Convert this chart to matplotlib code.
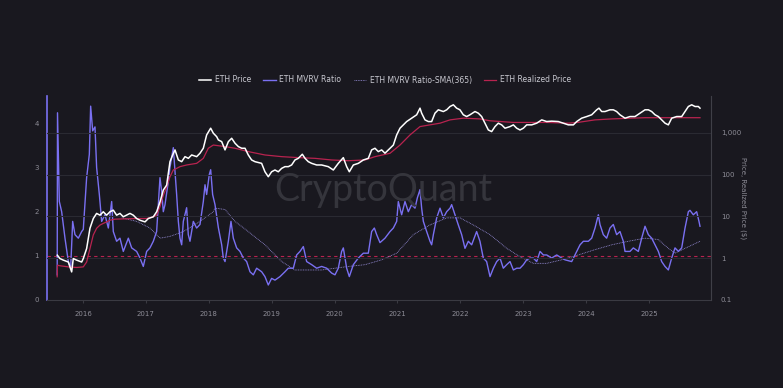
import matplotlib
matplotlib.use('Agg')
import matplotlib.pyplot as plt
from matplotlib.ticker import FixedLocator, FuncFormatter

# (decimal year, value)
mvrv = [(2015.590, 0.57), (2015.595, 4.24), (2015.624, 2.23), (2015.661, 2.00), (2015.714, 1.40),
        (2015.767, 0.87), (2015.804, 0.72), (2015.836, 1.78), (2015.873, 1.48), (2015.926, 1.40),
        (2015.979, 1.55), (2016.005, 1.60), (2016.058, 2.77), (2016.101, 3.30), (2016.122, 4.39),
        (2016.154, 3.83), (2016.191, 3.92), (2016.217, 3.00), (2016.260, 2.39), (2016.297, 1.78),
        (2016.350, 1.93), (2016.403, 1.63), (2016.456, 2.23), (2016.482, 1.55), (2016.535, 1.33),
        (2016.588, 1.40), (2016.641, 1.10), (2016.721, 1.40), (2016.774, 1.18), (2016.853, 1.10),
        (2016.906, 0.95), (2016.959, 0.76), (2017.012, 1.10), (2017.065, 1.18), (2017.118, 1.33),
        (2017.171, 1.55), (2017.198, 2.16), (2017.224, 2.77), (2017.251, 2.46), (2017.277, 2.00),
        (2017.304, 2.16), (2017.357, 2.69), (2017.383, 3.00), (2017.410, 3.23), (2017.436, 3.45),
        (2017.463, 2.92), (2017.489, 2.39), (2017.516, 1.78), (2017.542, 1.40), (2017.569, 1.25),
        (2017.595, 1.78), (2017.648, 2.09), (2017.674, 1.48), (2017.701, 1.33), (2017.754, 1.78),
        (2017.807, 1.63), (2017.860, 1.71), (2017.913, 2.23), (2017.940, 2.61), (2017.966, 2.39),
        (2018.008, 2.84), (2018.030, 2.95), (2018.061, 2.39), (2018.099, 2.16), (2018.125, 1.90),
        (2018.152, 1.64), (2018.205, 1.25), (2018.231, 0.95), (2018.258, 0.87), (2018.311, 1.33),
        (2018.353, 1.78), (2018.390, 1.40), (2018.443, 1.18), (2018.496, 1.10), (2018.549, 0.95),
        (2018.602, 0.87), (2018.655, 0.64), (2018.708, 0.57), (2018.761, 0.72), (2018.840, 0.64),
        (2018.893, 0.53), (2018.946, 0.34), (2018.999, 0.49), (2019.052, 0.45), (2019.132, 0.53),
        (2019.211, 0.64), (2019.264, 0.72), (2019.344, 0.72), (2019.397, 1.02), (2019.450, 1.10),
        (2019.503, 1.21), (2019.556, 0.87), (2019.636, 0.80), (2019.715, 0.72), (2019.794, 0.76),
        (2019.874, 0.72), (2019.953, 0.61), (2020.006, 0.57), (2020.059, 0.72), (2020.112, 1.10),
        (2020.139, 1.18), (2020.192, 0.72), (2020.234, 0.53), (2020.298, 0.80), (2020.377, 0.95),
        (2020.457, 1.06), (2020.536, 1.06), (2020.589, 1.55), (2020.632, 1.63), (2020.669, 1.48),
        (2020.722, 1.30), (2020.801, 1.40), (2020.881, 1.55), (2020.934, 1.63), (2020.987, 1.78),
        (2021.013, 2.23), (2021.040, 2.08), (2021.066, 1.93), (2021.119, 2.23), (2021.172, 2.00),
        (2021.225, 2.16), (2021.278, 2.08), (2021.315, 2.31), (2021.358, 2.50), (2021.384, 2.08),
        (2021.411, 1.78), (2021.464, 1.55), (2021.517, 1.33), (2021.543, 1.25), (2021.570, 1.48),
        (2021.623, 1.86), (2021.676, 2.08), (2021.729, 1.86), (2021.782, 2.00), (2021.835, 2.08),
        (2021.861, 2.16), (2021.914, 1.93), (2021.967, 1.70), (2022.020, 1.48), (2022.073, 1.17),
        (2022.126, 1.33), (2022.179, 1.25), (2022.258, 1.55), (2022.311, 1.33), (2022.364, 0.95),
        (2022.417, 0.87), (2022.471, 0.53), (2022.524, 0.72), (2022.577, 0.87), (2022.630, 0.95),
        (2022.682, 0.72), (2022.736, 0.80), (2022.789, 0.87), (2022.842, 0.68), (2022.895, 0.72),
        (2022.948, 0.72), (2023.001, 0.80), (2023.054, 0.91), (2023.107, 0.95), (2023.160, 0.95),
        (2023.213, 0.87), (2023.266, 1.10), (2023.319, 1.02), (2023.372, 1.02), (2023.451, 0.95),
        (2023.531, 1.02), (2023.610, 0.95), (2023.663, 0.91), (2023.769, 0.87), (2023.849, 1.10),
        (2023.902, 1.25), (2023.955, 1.33), (2024.034, 1.33), (2024.087, 1.40), (2024.140, 1.63),
        (2024.193, 1.93), (2024.219, 1.71), (2024.272, 1.48), (2024.325, 1.40), (2024.378, 1.63),
        (2024.431, 1.71), (2024.484, 1.48), (2024.537, 1.55), (2024.590, 1.33), (2024.617, 1.10),
        (2024.696, 1.10), (2024.749, 1.18), (2024.829, 1.10), (2024.882, 1.40), (2024.935, 1.67),
        (2024.988, 1.48), (2025.041, 1.40), (2025.094, 1.25), (2025.147, 1.10), (2025.200, 0.87),
        (2025.253, 0.76), (2025.306, 0.68), (2025.359, 0.95), (2025.412, 1.18), (2025.465, 1.10),
        (2025.518, 1.18), (2025.571, 1.63), (2025.624, 2.00), (2025.650, 2.03), (2025.703, 1.93),
        (2025.756, 2.00), (2025.793, 1.78), (2025.809, 1.67)]

mvrv_sma = [(2016.615, 1.86), (2016.854, 1.78), (2017.065, 1.63), (2017.224, 1.40), (2017.383, 1.44),
            (2017.595, 1.55), (2017.860, 1.78), (2018.072, 2.00), (2018.099, 2.08), (2018.258, 2.05),
            (2018.417, 1.78), (2018.628, 1.55), (2018.893, 1.25), (2019.159, 0.87), (2019.370, 0.68),
            (2019.582, 0.68), (2019.795, 0.68), (2020.006, 0.72), (2020.218, 0.76), (2020.483, 0.80),
            (2020.749, 0.91), (2020.987, 1.06), (2021.251, 1.48), (2021.517, 1.70), (2021.782, 1.86),
            (2021.994, 1.86), (2022.205, 1.70), (2022.471, 1.48), (2022.736, 1.17), (2022.948, 0.98),
            (2023.159, 0.83), (2023.371, 0.83), (2023.610, 0.91), (2023.874, 1.02), (2024.140, 1.14),
            (2024.405, 1.25), (2024.669, 1.33), (2024.935, 1.40), (2025.146, 1.37), (2025.305, 1.17),
            (2025.412, 1.06), (2025.571, 1.17), (2025.809, 1.33)]

eth_price = [(2015.592, 1.18), (2015.634, 0.98), (2015.687, 0.90), (2015.767, 0.81), (2015.820, 0.47),
             (2015.846, 0.98), (2015.899, 0.90), (2015.979, 0.81), (2016.005, 0.98), (2016.058, 1.7),
             (2016.111, 5.2), (2016.164, 8.9), (2016.217, 11.8), (2016.270, 10.7), (2016.323, 12.9),
             (2016.376, 10.7), (2016.429, 12.9), (2016.482, 14.1), (2016.535, 10.7), (2016.588, 11.8),
             (2016.641, 9.8), (2016.747, 11.8), (2016.800, 10.7), (2016.853, 8.9), (2016.906, 8.1),
             (2016.986, 7.4), (2017.039, 8.9), (2017.118, 9.8), (2017.171, 12.9), (2017.224, 22),
             (2017.277, 42.7), (2017.330, 56), (2017.383, 204), (2017.426, 295), (2017.463, 390),
             (2017.516, 224), (2017.569, 204), (2017.622, 269), (2017.675, 245), (2017.728, 295),
             (2017.807, 269), (2017.860, 324), (2017.913, 427), (2017.966, 890), (2018.030, 1290),
             (2018.072, 980), (2018.125, 810), (2018.152, 675), (2018.205, 615), (2018.258, 390),
             (2018.311, 615), (2018.364, 740), (2018.417, 563), (2018.470, 468), (2018.523, 427),
             (2018.576, 427), (2018.628, 295), (2018.681, 224), (2018.734, 204), (2018.840, 186),
             (2018.893, 117), (2018.946, 89), (2018.999, 117), (2019.052, 129), (2019.105, 117),
             (2019.158, 141), (2019.211, 155), (2019.264, 155), (2019.317, 170), (2019.370, 224),
             (2019.423, 245), (2019.487, 307), (2019.530, 245), (2019.582, 204), (2019.635, 186),
             (2019.715, 170), (2019.794, 170), (2019.900, 155), (2019.980, 129), (2020.059, 186),
             (2020.139, 255), (2020.192, 155), (2020.234, 117), (2020.298, 170), (2020.377, 186),
             (2020.457, 224), (2020.536, 245), (2020.589, 390), (2020.642, 427), (2020.695, 355),
             (2020.748, 390), (2020.801, 325), (2020.881, 427), (2020.934, 510), (2020.987, 890),
             (2021.040, 1290), (2021.093, 1550), (2021.146, 1860), (2021.225, 2240), (2021.305, 2700),
             (2021.358, 3890), (2021.384, 2950), (2021.437, 2040), (2021.490, 1860), (2021.543, 1860),
             (2021.596, 2950), (2021.649, 3550), (2021.729, 3230), (2021.782, 3550), (2021.835, 4260),
             (2021.888, 4680), (2021.940, 3890), (2021.993, 3550), (2022.046, 2700), (2022.099, 2450),
             (2022.152, 2700), (2022.232, 3230), (2022.285, 2950), (2022.338, 2450), (2022.391, 1700),
             (2022.444, 1170), (2022.497, 1070), (2022.550, 1410), (2022.603, 1700), (2022.656, 1550),
             (2022.709, 1290), (2022.789, 1410), (2022.842, 1550), (2022.895, 1290), (2022.948, 1170),
             (2023.001, 1290), (2023.054, 1550), (2023.134, 1550), (2023.213, 1700), (2023.293, 2040),
             (2023.372, 1860), (2023.451, 1900), (2023.557, 1860), (2023.637, 1700), (2023.716, 1550),
             (2023.796, 1550), (2023.849, 1860), (2023.928, 2240), (2024.008, 2450), (2024.087, 2700),
             (2024.167, 3550), (2024.203, 3890), (2024.246, 3230), (2024.299, 3230), (2024.378, 3550),
             (2024.431, 3550), (2024.484, 3230), (2024.537, 2700), (2024.617, 2240), (2024.696, 2450),
             (2024.776, 2450), (2024.855, 2950), (2024.935, 3550), (2024.988, 3550), (2025.041, 3230),
             (2025.094, 2700), (2025.147, 2450), (2025.200, 2040), (2025.253, 1700), (2025.306, 1550),
             (2025.359, 2240), (2025.439, 2450), (2025.518, 2450), (2025.571, 3230), (2025.624, 4260),
             (2025.677, 4680), (2025.730, 4260), (2025.783, 4260), (2025.809, 3890)]

realized_price = [(2015.590, 0.36), (2015.595, 0.68), (2015.634, 0.66), (2015.767, 0.62), (2015.900, 0.60),
                  (2016.005, 0.62), (2016.058, 0.81), (2016.111, 1.7), (2016.164, 3.6), (2016.217, 5.2),
                  (2016.270, 6.2), (2016.323, 6.8), (2016.376, 7.4), (2016.429, 8.1), (2016.508, 8.6),
                  (2016.853, 8.9), (2017.012, 8.9), (2017.118, 9.8), (2017.171, 10.7), (2017.224, 17),
                  (2017.277, 32), (2017.330, 51), (2017.383, 89), (2017.436, 129), (2017.489, 141),
                  (2017.542, 155), (2017.648, 170), (2017.807, 186), (2017.913, 245), (2017.992, 427),
                  (2018.072, 510), (2018.258, 468), (2018.417, 427), (2018.628, 355), (2018.893, 295),
                  (2019.158, 269), (2019.423, 255), (2019.688, 245), (2019.953, 224), (2020.218, 215),
                  (2020.483, 224), (2020.642, 269), (2020.881, 324), (2021.040, 510), (2021.199, 890),
                  (2021.358, 1410), (2021.517, 1550), (2021.676, 1700), (2021.835, 2040), (2022.047, 2240),
                  (2022.311, 2150), (2022.471, 1940), (2022.842, 1770), (2023.372, 1770), (2023.716, 1700),
                  (2023.875, 1780), (2024.140, 2040), (2024.405, 2150), (2024.935, 2300), (2025.809, 2300)]

years = [2016, 2017, 2018, 2019, 2020, 2021, 2022, 2023, 2024, 2025]
left_ticks = [0, 1, 2, 3, 4]
right_ticks = [0.1, 1, 10, 100, 1000]

bg = '#19181f'
purple = '#7a70f2'
sma_col = '#9990dd'
crimson = '#b8234f'
grey_txt = '#8d8c96'

fig = plt.figure(figsize=(7.83, 3.88), dpi=100)
fig.patch.set_facecolor(bg)
ax = fig.add_axes([47/783, 88/388, 664/783, 204/388])
ax.set_facecolor(bg)
ax2 = ax.twinx()

mt, mv = zip(*mvrv)
st, sv = zip(*mvrv_sma)
pt, pv = zip(*eth_price)
rt, rv = zip(*realized_price)

ax.axhline(1, color=crimson, lw=0.8, ls=(0, (3, 3)), zorder=1)
l2, = ax.plot(mt, mv, color=purple, lw=1.0, zorder=3)
l3, = ax.plot(st, sv, color=sma_col, lw=0.6, ls=(0, (1, 1)), zorder=2)
l1, = ax2.plot(pt, pv, color='white', lw=1.1, zorder=3)
l4, = ax2.plot(rt, rv, color=crimson, lw=0.9, zorder=2)

ax.set_xlim(2015.428, 2025.984)
ax.set_ylim(0, 4.62)
ax2.set_yscale('log')
ax2.set_ylim(0.1, 7600)

ax.set_xticks(years)
ax.set_xticklabels([str(y) for y in years])
ax.set_yticks(left_ticks)
ax2.yaxis.set_major_locator(FixedLocator(right_ticks))
ax2.yaxis.set_minor_locator(FixedLocator([]))
ax2.yaxis.set_major_formatter(FuncFormatter(lambda v, p: '{:,g}'.format(v)))
ax2.grid(True, axis='y', color='#2a2a32', lw=0.8)

for a in (ax, ax2):
    for s in a.spines.values():
        s.set_visible(False)
    a.tick_params(colors=grey_txt, labelsize=5, length=0)
ax.spines['left'].set_visible(True)
ax.spines['left'].set_color(purple)
ax.spines['left'].set_linewidth(1.2)
ax.spines['bottom'].set_visible(True)
ax.spines['bottom'].set_color('#3a3a42')
ax2.spines['right'].set_visible(True)
ax2.spines['right'].set_color('#3f3f47')
ax.tick_params(axis='x', pad=6, length=2, color='#3a3a42')
ax.tick_params(axis='y', pad=6)
ax2.tick_params(axis='y', pad=7)
ax2.set_ylabel('Price, Realized Price ($)', rotation=270, color=grey_txt, fontsize=5, labelpad=4)

fig.text(383/783, 1 - 190/388, 'CryptoQuant', color='#35353c', fontsize=27,
         ha='center', va='center', family='Lato', zorder=0)

fig.legend([l1, l2, l3, l4],
           ['ETH Price', 'ETH MVRV Ratio', 'ETH MVRV Ratio-SMA(365)', 'ETH Realized Price'],
           loc='center', bbox_to_anchor=(385/783, 1 - 80/388), ncol=4, frameon=False,
           fontsize=5.5, labelcolor='#c8c8d0', handlelength=1.6, columnspacing=1.6,
           handletextpad=0.5)

fig.savefig('out.png', dpi=100, facecolor=bg)
